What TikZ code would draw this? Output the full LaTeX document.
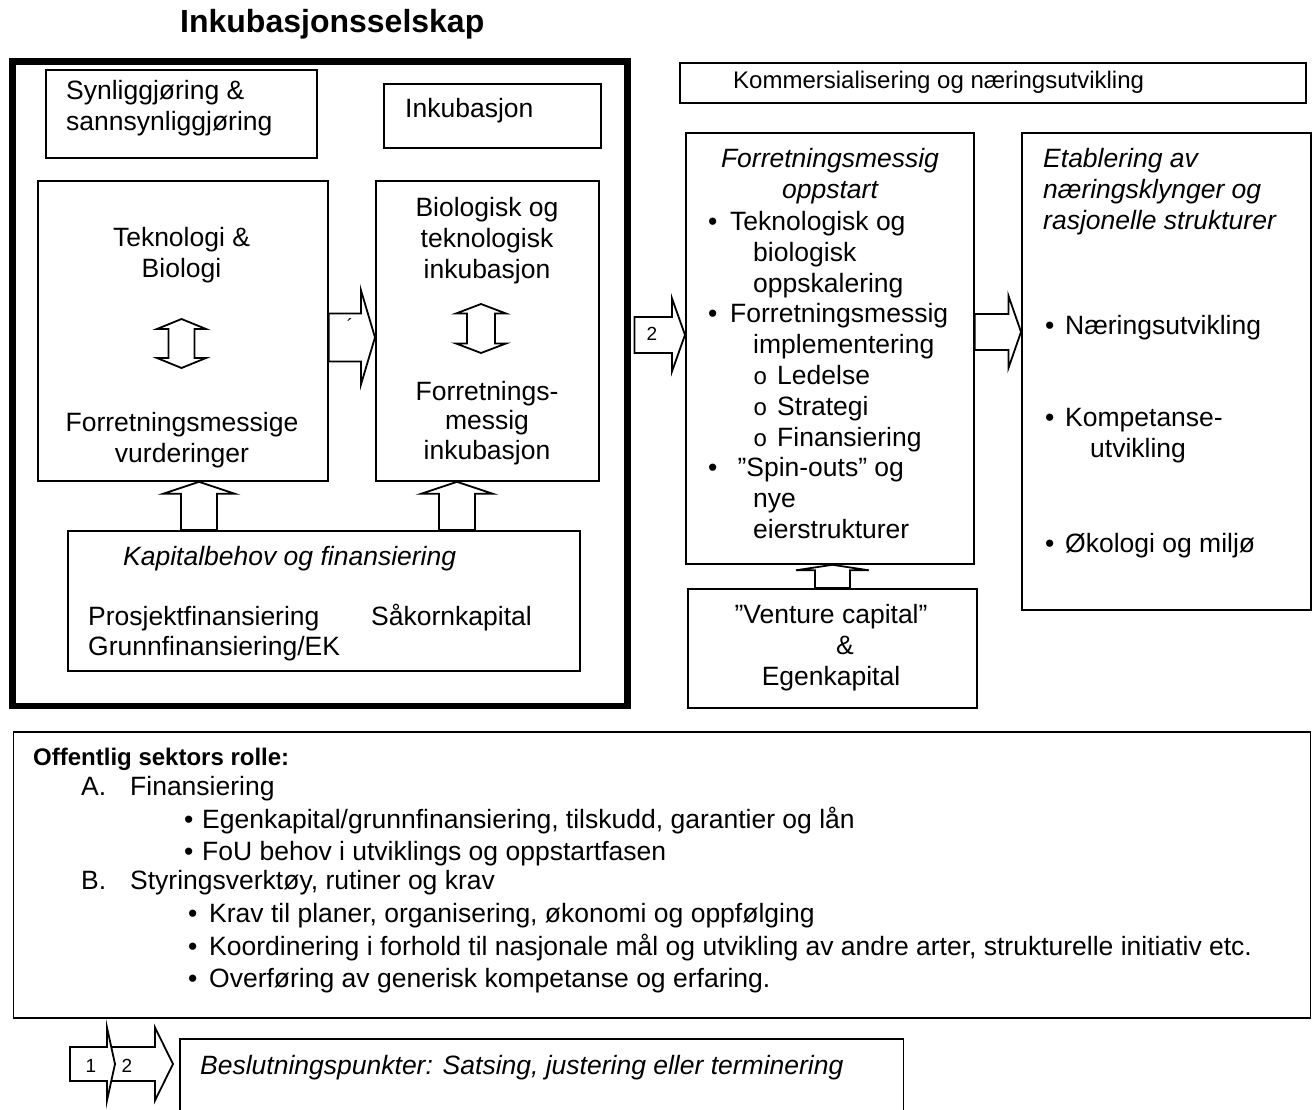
\documentclass[tikz,border=0pt]{standalone}
\usepackage{fontspec}
\setmainfont{Liberation Sans}
\setmonofont{Liberation Mono}
\usetikzlibrary{calc}
\newcommand\fmain{\fontsize{26.5pt}{30.8pt}\selectfont}
\newcommand\fsmall{\fontsize{24pt}{28pt}\selectfont}
\newcommand\subb{\makebox[24pt][l]{\fontsize{24pt}{24pt}\selectfont\ttfamily o}}
% block arrows: start, tip, shaft half width, head half width, head length
\newcommand{\rblock}[5]{%
  \draw[barrow] let \p1=#1, \p2=#2 in
    (\x1,\y1+#3) -- (\x2-#5,\y1+#3) -- (\x2-#5,\y1+#4) -- (\x2,\y1)
    -- (\x2-#5,\y1-#4) -- (\x2-#5,\y1-#3) -- (\x1,\y1-#3) -- cycle;}
\newcommand{\ublock}[5]{%
  \draw[barrow] let \p1=#1, \p2=#2 in
    (\x1-#3,\y1) -- (\x1-#3,\y2-#5) -- (\x1-#4,\y2-#5) -- (\x1,\y2)
    -- (\x1+#4,\y2-#5) -- (\x1+#3,\y2-#5) -- (\x1+#3,\y1) -- cycle;}
\newcommand{\dblock}[5]{%
  \draw[barrow] let \p1=#1, \p2=#2 in
    (\x1,\y1) -- (\x1+#4,\y1+#5) -- (\x1+#3,\y1+#5) -- (\x1+#3,\y2-#5)
    -- (\x1+#4,\y2-#5) -- (\x1,\y2) -- (\x1-#4,\y2-#5) -- (\x1-#3,\y2-#5)
    -- (\x1-#3,\y1+#5) -- (\x1-#4,\y1+#5) -- cycle;}
\begin{document}
\begin{tikzpicture}[x=1pt, y=-1pt, line join=miter,
    box/.style={draw, line width=1.8pt, anchor=north west, inner sep=0pt},
    txt/.style={inner sep=0pt, font=\fmain, align=left},
    ctxt/.style={inner sep=0pt, font=\fmain, align=center},
    barrow/.style={draw, line width=1.8pt, fill=white},
    num/.style={inner sep=0pt, font=\fontsize{19pt}{22pt}\selectfont}]
  \useasboundingbox (0,0) rectangle (1314,1110);

  % incubator company
  \node[inner sep=0pt, anchor=base west, font=\fontsize{32pt}{36pt}\selectfont\bfseries] (title) at (180,33) {Inkubasjonsselskap};
  \node[box, line width=6.5pt, minimum width=615pt, minimum height=644pt] (inc) at (9,58.5) {};
  \node[box, minimum width=271pt, minimum height=88pt] (syn) at (45,69) {};
  \node[txt, anchor=north west, font=\fontsize{26.5pt}{31pt}\selectfont] (synt) at (66,80) {Synliggjøring \&\\sannsynliggjøring};
  \node[box, minimum width=217pt, minimum height=64pt] (ink) at (383,83) {};
  \node[txt, anchor=base west] (inkt) at (405,118) {Inkubasjon};

  \node[box, minimum width=290pt, minimum height=300pt] (tek) at (37,180) {};
  \node[ctxt, anchor=north] (tekt1) at (181.5,227) {Teknologi \&\\Biologi};
  \node[ctxt, anchor=north] (tekt2) at (182,412) {Forretningsmessige\\vurderinger};
  \node[box, minimum width=223pt, minimum height=300pt] (bio) at (375,180) {};
  \node[ctxt, anchor=north] (biot1) at (487,197) {Biologisk og\\teknologisk\\inkubasjon};
  \node[ctxt, anchor=north, font=\fontsize{26.5pt}{29.5pt}\selectfont] (biot2) at (487,381) {Forretnings-\\messig\\inkubasjon};
  \coordinate (tekd) at (181.5,368);
  \coordinate (teku) at (181.5,319);
  \coordinate (biod) at (481,353);
  \coordinate (biou) at (481,304);
  \dblock{(tekd)}{(teku)}{13pt}{24.5pt}{10pt}
  \dblock{(biod)}{(biou)}{14pt}{25pt}{9.5pt}
  \coordinate (a1) at ($(tek.east)+(0,6.5)$);
  \rblock{(a1)}{(a1 -| bio.west)}{24pt}{47pt}{14pt}
  \node[num] (tick) at (350,326) {´};

  \node[box, minimum width=512pt, minimum height=140pt] (kap) at (67,530) {};
  \node[txt, anchor=base west, font=\fmain\itshape] (kapt) at (123,565) {Kapitalbehov og finansiering};
  \node[txt, anchor=north west, font=\fontsize{26.5pt}{30pt}\selectfont] (kapt2) at (88,606) {Prosjektfinansiering\\Grunnfinansiering/EK};
  \node[txt, anchor=base west] (kapt3) at (371,625) {Såkornkapital};
  \coordinate (k1) at ($(kap.north west)+(132,0)$);
  \coordinate (k2) at ($(kap.north west)+(390,0)$);
  \ublock{(k1)}{(k1 |- tek.south)}{18pt}{36pt}{12pt}
  \ublock{(k2)}{(k2 |- bio.south)}{18pt}{36pt}{12pt}

  % commercialisation
  \node[box, minimum width=626pt, minimum height=40pt] (kom) at (679,62) {};
  \node[txt, anchor=base west, font=\fsmall] (komt) at (733,89) {Kommersialisering og næringsutvikling};
  \node[box, minimum width=288pt, minimum height=431pt] (opp) at (685,132) {};
  \node[ctxt, anchor=north, font=\fmain\itshape] (oppt) at (830,148) {Forretningsmessig\\oppstart};
  \node[txt, anchor=north west] (oppl) at (708,211) {%
    \makebox[22pt][l]{•}Teknologisk og\\
    \hspace*{45pt}biologisk\\
    \hspace*{45pt}oppskalering\\
    \makebox[22pt][l]{•}Forretningsmessig\\
    \hspace*{45pt}implementering\\
    \hspace*{45pt}\subb Ledelse\\
    \hspace*{45pt}\subb Strategi\\
    \hspace*{45pt}\subb Finansiering\\
    \makebox[22pt][l]{•} ”Spin-outs” og\\
    \hspace*{45pt}nye\\
    \hspace*{45pt}eierstrukturer};
  \node[box, minimum width=289pt, minimum height=477pt] (etab) at (1021,132) {};
  \node[txt, anchor=north west, font=\fmain\itshape] (etabt) at (1043,148) {Etablering av\\næringsklynger og\\rasjonelle strukturer};
  \node[txt, anchor=base west] (etab1) at (1045,334) {\makebox[20pt][l]{•}Næringsutvikling};
  \node[txt, anchor=north west] (etab2) at (1045,408) {\makebox[20pt][l]{•}Kompetanse-\\\hspace*{45pt}utvikling};
  \node[txt, anchor=base west] (etab3) at (1045,552) {\makebox[20pt][l]{•}Økologi og miljø};
  \node[box, minimum width=289pt, minimum height=119pt] (ven) at (687,588) {};
  \node[ctxt, anchor=north] (vent) at (831,604) {”Venture capital”\\\hspace*{28pt}\&\\Egenkapital};

  \coordinate (a2) at ($(opp.west)+(0,-13.5)$);
  \rblock{($(inc.east |- a2)+(4,0)$)}{(a2)}{18pt}{36.5pt}{13pt}
  \node[num] (n2) at (652,334) {2};
  \coordinate (a3) at ($(opp.east)+(0,-16.5)$);
  \rblock{(a3)}{(a3 -| etab.west)}{18pt}{36pt}{12.5pt}
  \ublock{(ven.north)}{(ven.north |- opp.south)}{17.5pt}{36.5pt}{5.5pt}

  % public sector
  \node[box, minimum width=1297pt, minimum height=286pt] (pub) at (12.5,731) {};
  \node[txt, anchor=base west, font=\fsmall\bfseries] (pubt) at (33,765) {Offentlig sektors rolle:};
  \node[txt, anchor=base west] (pa) at (81,795) {A.};
  \node[txt, anchor=base west] (pat) at (130,795) {Finansiering};
  \node[txt, anchor=base west] (pa1) at (184,828) {\makebox[18pt][l]{•}Egenkapital/grunnfinansiering, tilskudd, garantier og lån};
  \node[txt, anchor=base west] (pa2) at (184,860) {\makebox[18pt][l]{•}FoU behov i utviklings og oppstartfasen};
  \node[txt, anchor=base west] (pb) at (81,889) {B.};
  \node[txt, anchor=base west] (pbt) at (130,889) {Styringsverktøy, rutiner og krav};
  \node[txt, anchor=base west] (pb1) at (188,922) {\makebox[21pt][l]{•}Krav til planer, organisering, økonomi og oppfølging};
  \node[txt, anchor=base west] (pb2) at (188,955) {\makebox[21pt][l]{•}Koordinering i forhold til nasjonale mål og utvikling av andre arter, strukturelle initiativ etc.};
  \node[txt, anchor=base west] (pb3) at (188,987) {\makebox[21pt][l]{•}Overføring av generisk kompetanse og erfaring.};

  % legend
  \coordinate (l1) at (70,1064);
  \coordinate (l1t) at (115,1064);
  \coordinate (l2) at (107,1064);
  \coordinate (l2t) at (173,1064);
  \rblock{(l2)}{(l2t)}{17pt}{36.5pt}{18pt}
  \rblock{(l1)}{(l1t)}{17pt}{36.5pt}{8pt}
  \node[num] (n1l) at (91,1066) {1};
  \node[num] (n2l) at (127,1066) {2};
  \node[inner sep=0pt, minimum width=723pt, minimum height=71pt, anchor=north west] (leg) at (180,1039) {};
  \draw[line width=1.8pt] (leg.south west) -- (leg.north west) -- (leg.north east) -- (leg.south east);
  \node[txt, anchor=base west, font=\fmain\itshape] (legt) at (200,1074) {Beslutningspunkter: Satsing, justering eller terminering};
\end{tikzpicture}
\end{document}
